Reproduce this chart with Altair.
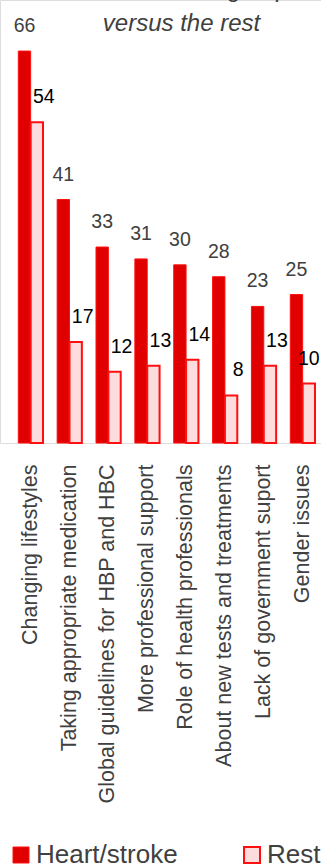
import altair as alt
import pandas as pd

# Survey topics and the share (%) of each group choosing them
topics = [
    "Changing lifestyles",
    "Taking appropriate medication",
    "Global guidelines for HBP and HBC",
    "More professional support",
    "Role of health professionals",
    "About new tests and treatments",
    "Lack of government suport",
    "Gender issues",
]
heart_stroke = [66, 41, 33, 31, 30, 28, 23, 25]
rest = [54, 17, 12, 13, 14, 8, 13, 10]
groups = ["Heart/stroke", "Rest"]

rows = []
for t, h, r in zip(topics, heart_stroke, rest):
    rows.append({"topic": t, "group": groups[0], "value": h})
    rows.append({"topic": t, "group": groups[1], "value": r})
df = pd.DataFrame(rows)

FONT = "Liberation Sans"
GREY = "#404040"
RED_EDGE = "#ff1010"

base = alt.Chart(df).encode(
    x=alt.X(
        "topic:N",
        sort=topics,
        title=None,
        scale=alt.Scale(paddingInner=0.364, paddingOuter=0.3127, align=0.753),
        axis=alt.Axis(
            labelAngle=270,
            labelAlign="right",
            labelBaseline="middle",
            labelPadding=21,
            labelFontSize=21.5,
            labelFont=FONT,
            labelColor=GREY,
            labelLimit=500,
            ticks=False,
            domain=False,
        ),
    ),
    xOffset=alt.XOffset("group:N", sort=groups),
    y=alt.Y("value:Q", scale=alt.Scale(domain=[0, 74.6]), axis=None),
)

bars = base.mark_bar(stroke=RED_EDGE).encode(
    color=alt.Color(
        "group:N",
        sort=groups,
        scale=alt.Scale(domain=groups, range=["#e00000", "#fcdcdc"]),
        legend=alt.Legend(
            orient="none",
            legendX=8,
            legendY=842,
            padding=0,
            direction="horizontal",
            title=None,
            symbolType="square",
            symbolSize=256,
            symbolStrokeColor=RED_EDGE,
            symbolStrokeWidth=2,
            labelFontSize=26,
            labelFont=FONT,
            labelColor=GREY,
            labelOffset=2,
            columnPadding=61,
        ),
    ),
    strokeWidth=alt.StrokeWidth(
        "group:N", scale=alt.Scale(domain=groups, range=[1, 2]), legend=None
    ),
)

heart_labels = base.transform_filter(alt.datum.group == groups[0]).mark_text(
    baseline="alphabetic", dy=-19, fontSize=19.5, font=FONT, color=GREY
).encode(text="value:Q")

# Rest labels sit a little to the right of their bars; the last one stays
# centred so it does not run past the right edge.
rest_only = base.transform_filter(alt.datum.group == groups[1])
rest_labels = rest_only.transform_filter(alt.datum.topic != topics[-1]).mark_text(
    baseline="alphabetic", dy=-19, dx=7, fontSize=19.5, font=FONT, color="#000000"
).encode(text="value:Q")
rest_last = rest_only.transform_filter(alt.datum.topic == topics[-1]).mark_text(
    baseline="alphabetic", dy=-19, dx=0, fontSize=19.5, font=FONT, color="#000000"
).encode(text="value:Q")

chart = (
    alt.layer(bars, heart_labels, rest_labels, rest_last)
    .properties(
        width=321,
        height=443,
        padding={"left": 0, "top": 0, "right": 0, "bottom": 422},
        autosize=alt.AutoSizeParams(type="none"),
        title=alt.TitleParams(
            text=["the heart/stroke groups,", "versus the rest"],
            fontStyle="italic",
            fontWeight="normal",
            fontSize=24,
            font=FONT,
            color=GREY,
            anchor="middle",
            lineHeight=34,
            offset=0,
            dx=21,
            dy=36,
        ),
    )
    .configure_view(stroke=None)
    .configure(background="white")
)

chart.save("out.html", embed_options={"renderer": "svg", "actions": False})
